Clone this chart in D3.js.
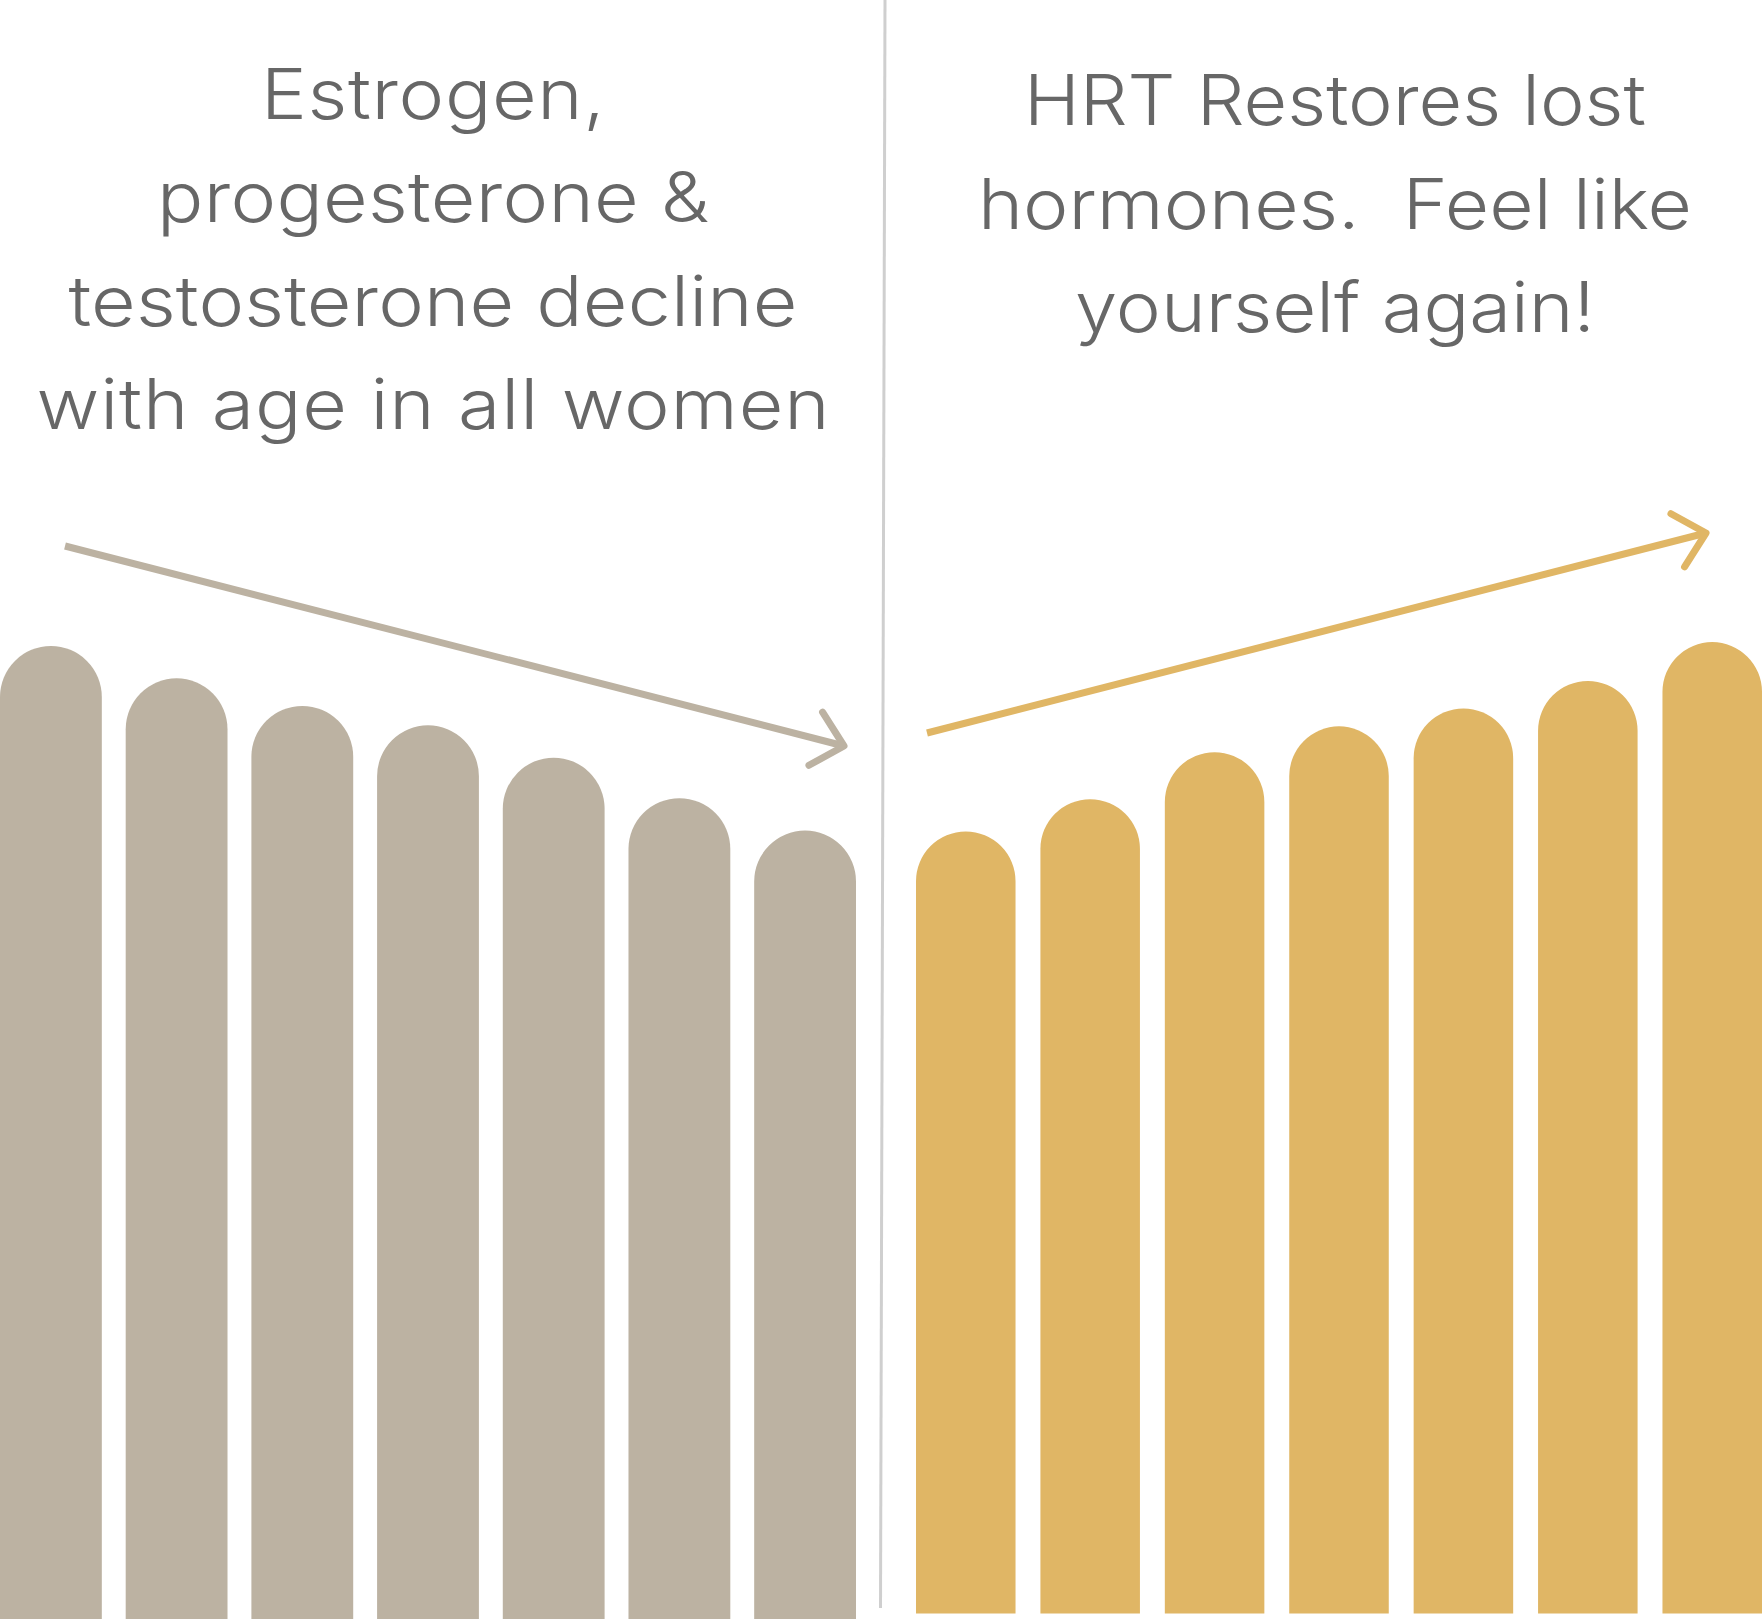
<!DOCTYPE html>
<html>
<head>
<meta charset="utf-8">
<script src="https://cdn.jsdelivr.net/npm/d3@7"></script>
<style>
  body { margin: 0; background: #fff; }
  svg { display: block; }
</style>
</head>
<body>
<script>
// bar heights, in % of the full picture height
const stages = ["1", "2", "3", "4", "5", "6", "7"];
const declineValues = [60.1, 58.1, 56.4, 55.2, 53.2, 50.7, 48.7];
const restoreValues = [48.3, 50.3, 53.2, 54.8, 55.9, 57.6, 60.0];

const leftText = ["Estrogen,", "progesterone &", "testosterone decline", "with age in all women"];
const rightText = ["HRT Restores lost", "hormones.  Feel like", "yourself again!"];

const w = 1763;
const h = 1619;

const grey = "#bcb2a2";
const gold = "#e0b665";

const xLeft = d3.scaleBand()
    .domain(stages)
    .range([0, 856])
    .paddingInner(0.19)
    .paddingOuter(0);

const xRight = d3.scaleBand()
    .domain(stages)
    .range([916, 1762])
    .paddingInner(0.2)
    .paddingOuter(0);

const yLeft = d3.scaleLinear()
    .domain([0, 100])
    .range([h, 0]);

const yRight = d3.scaleLinear()
    .domain([0, 100])
    .range([h - 5.5, -5.5]);

const svg = d3.select("body")
  .append("svg")
    .attr("width", w)
    .attr("height", h);

// rounded-top bar: the value marks the top of the arc
function barPath(x, top, bw, base) {
  const r = bw / 2;
  return `M${x},${base} L${x},${top + r} A${r},${r} 0 0 1 ${x + bw},${top + r} L${x + bw},${base} Z`;
}

svg.append("g")
    .attr("id", "decline")
  .selectAll("path")
  .data(declineValues)
  .enter().append("path")
    .attr("d", (d, i) => barPath(xLeft(stages[i]), yLeft(d), xLeft.bandwidth(), yLeft(0)))
    .attr("fill", grey);

svg.append("g")
    .attr("id", "restore")
  .selectAll("path")
  .data(restoreValues)
  .enter().append("path")
    .attr("d", (d, i) => barPath(xRight(stages[i]), yRight(d), xRight.bandwidth(), yRight(0)))
    .attr("fill", gold);

// divider
svg.append("line")
    .attr("x1", 885).attr("y1", 0)
    .attr("x2", 880.5).attr("y2", 1608)
    .attr("stroke", "#cfcfcf")
    .attr("stroke-width", 3);

// trend arrows
const arrows = [
  {x1: 65, y1: 546, x2: 844, y2: 746, color: grey},
  {x1: 927, y1: 733, x2: 1706, y2: 533, color: gold}
];

arrows.forEach(a => {
  const ang = Math.atan2(a.y2 - a.y1, a.x2 - a.x1);
  const len = 40;
  const spread = Math.PI / 4 * 0.96;
  const p1 = [a.x2 - len * Math.cos(ang - spread), a.y2 - len * Math.sin(ang - spread)];
  const p2 = [a.x2 - len * Math.cos(ang + spread), a.y2 - len * Math.sin(ang + spread)];
  svg.append("line")
      .attr("x1", a.x1).attr("y1", a.y1)
      .attr("x2", a.x2 - 3 * Math.cos(ang)).attr("y2", a.y2 - 3 * Math.sin(ang))
      .attr("stroke", a.color)
      .attr("stroke-width", 7);
  svg.append("path")
      .attr("d", `M${p1[0]},${p1[1]} L${a.x2},${a.y2} L${p2[0]},${p2[1]}`)
      .attr("fill", "none")
      .attr("stroke", a.color)
      .attr("stroke-width", 7)
      .attr("stroke-linecap", "round")
      .attr("stroke-linejoin", "round");
});

// captions
const leftWidths = [344, 552, 729, 793];
const rightWidths = [622, 714, 520];

function caption(lines, widths, cx, y0) {
  svg.append("g")
    .selectAll("text")
    .data(lines)
    .enter().append("text")
      .attr("x", 0)
      .attr("y", 0)
      .attr("text-anchor", "middle")
      .attr("font-family", "Inter, 'Open Sans', sans-serif")
      .attr("font-weight", 300)
      .attr("font-size", 70)
      .attr("fill", "#676767")
      .style("white-space", "pre")
      .text(d => d)
      .each(function(d, i) {
        const t = d3.select(this);
        const natural = this.getComputedTextLength();
        // widen glyphs a little (reference face is broad), spread the rest
        const sx = Math.min(1.1, widths[i] / natural);
        t.attr("transform", `translate(${cx},${y0 + i * 103.6}) scale(${sx},1)`)
          .attr("textLength", widths[i] / sx)
          .attr("lengthAdjust", "spacing");
      });
}

caption(leftText, leftWidths, 433, 118.5);
caption(rightText, rightWidths, 1335, 125);
</script>
</body>
</html>
